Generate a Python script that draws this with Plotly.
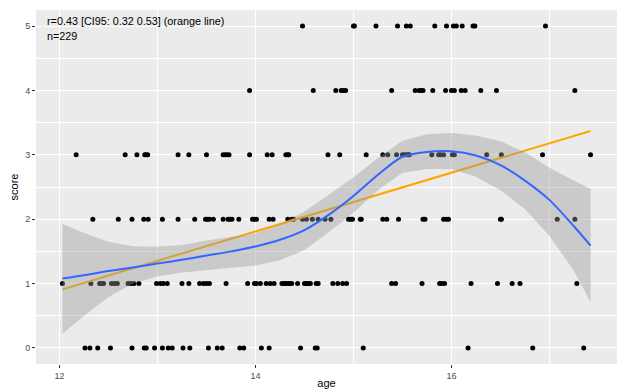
import plotly.graph_objects as go

# ---- data ----
age_s0 = [12.26, 12.31, 12.39, 12.52, 12.74, 12.865, 12.885, 12.97, 13.05, 13.11, 13.15, 13.26,
          13.33, 13.52, 13.61, 13.66, 13.84, 13.88, 14.06, 14.14, 14.46, 14.61, 14.63, 15.10,
          16.17, 16.83, 17.35]
age_s1 = [12.03, 12.32, 12.41, 12.43, 12.45, 12.53, 12.56, 12.59, 12.70, 12.73, 12.76, 12.81,
          12.99, 13.03, 13.06, 13.10, 13.25, 13.32, 13.43, 13.47, 13.50, 13.53, 13.70, 13.92,
          13.99, 14.01, 14.05, 14.11, 14.15, 14.19, 14.27, 14.29, 14.31, 14.33, 14.35, 14.37,
          14.43, 14.50, 14.52, 14.54, 14.56, 14.62, 14.64, 14.79, 14.84, 14.89, 14.93, 15.39,
          15.43, 15.70, 15.88, 15.90, 15.93, 16.20, 16.47, 16.62, 16.70, 17.28]
age_s2 = [12.34, 12.60, 12.74, 12.86, 12.905, 13.05, 13.21, 13.38, 13.49, 13.51, 13.53, 13.57,
          13.67, 13.72, 13.74, 13.76, 13.83, 13.97, 13.99, 14.01, 14.14, 14.18, 14.33, 14.37,
          14.39, 14.48, 14.52, 14.58, 14.64, 14.71, 14.77, 14.95, 14.97, 14.99, 15.07, 15.08,
          15.30, 15.34, 15.46, 15.71, 15.73, 15.92, 15.95, 15.97, 16.50, 16.51, 17.08, 17.26]
age_s3 = [12.17, 12.67, 12.79, 12.87, 12.885, 12.90, 13.21, 13.32, 13.50, 13.67, 13.69, 13.71,
          13.73, 13.94, 14.12, 14.17, 14.31, 14.33, 14.34, 14.74, 14.86, 15.13, 15.30, 15.35,
          15.44, 15.50, 15.52, 15.54, 15.56, 15.57, 15.80, 15.87, 15.89, 15.92, 16.01, 16.03,
          16.36, 16.51, 16.93, 17.42]
age_s4 = [13.94, 14.59, 14.82, 14.875, 14.90, 14.92, 15.39, 15.63, 15.67, 15.69, 15.71, 15.81,
          15.94, 16.00, 16.03, 16.10, 16.14, 16.30, 16.46, 17.26]
age_s5 = [14.48, 15.00, 15.01, 15.23, 15.45, 15.54, 15.58, 15.83, 15.95, 16.02, 16.05, 16.11,
          16.22, 16.24, 16.96]

# linear fit (orange line) end points
lm_x = [12.03, 17.42]
lm_y = [0.91, 3.37]

# loess smooth and its 95% band
smooth_x = [12.03, 12.25, 12.5, 12.75, 13.0, 13.25, 13.5, 13.75, 14.0, 14.25, 14.5, 14.75,
            15.0, 15.25, 15.5, 15.75, 16.0, 16.25, 16.5, 16.75, 17.0, 17.25, 17.42]
smooth_y = [1.08, 1.13, 1.195, 1.25, 1.31, 1.37, 1.435, 1.50, 1.575, 1.68, 1.83, 2.07,
            2.36, 2.69, 2.97, 3.045, 3.055, 2.99, 2.84, 2.60, 2.30, 1.89, 1.59]
band_hi = [1.925, 1.785, 1.65, 1.58, 1.57, 1.60, 1.67, 1.72, 1.78, 1.92, 2.12, 2.38,
           2.65, 2.95, 3.22, 3.32, 3.34, 3.30, 3.21, 3.04, 2.80, 2.60, 2.47]
band_lo = [0.22, 0.50, 0.79, 1.00, 1.11, 1.17, 1.21, 1.245, 1.28, 1.36, 1.52, 1.80,
           2.10, 2.45, 2.72, 2.78, 2.78, 2.66, 2.45, 2.16, 1.74, 1.20, 0.71]

x_ticks = [12, 14, 16]
y_ticks = [0, 1, 2, 3, 4, 5]
label_r = "r=0.43 [CI95: 0.32 0.53] (orange line)"
label_n = "n=229"

# ---- build ----
ages = age_s0 + age_s1 + age_s2 + age_s3 + age_s4 + age_s5
scores = ([0] * len(age_s0) + [1] * len(age_s1) + [2] * len(age_s2) +
          [3] * len(age_s3) + [4] * len(age_s4) + [5] * len(age_s5))

FONT = "Liberation Sans, Arial, sans-serif"

fig = go.Figure()
fig.add_trace(go.Scatter(x=ages, y=scores, mode="markers",
                         marker=dict(color="black", size=5), hoverinfo="skip"))
fig.add_trace(go.Scatter(x=lm_x, y=lm_y, mode="lines",
                         line=dict(color="#FFA500", width=2)))
fig.add_trace(go.Scatter(x=smooth_x + smooth_x[::-1], y=band_hi + band_lo[::-1],
                         mode="lines", fill="toself", line=dict(width=0),
                         fillcolor="rgba(153,153,153,0.4)"))
fig.add_trace(go.Scatter(x=smooth_x, y=smooth_y, mode="lines",
                         line=dict(color="#3366FF", width=2, shape="spline", smoothing=0.8)))

axis_common = dict(
    showgrid=True, gridcolor="white", gridwidth=1.1, zeroline=False,
    ticks="outside", ticklen=3, tickwidth=1, tickcolor="#333333",
    tickfont=dict(family=FONT, size=9, color="#4D4D4D"),
    showline=False, automargin=False,
)
fig.update_layout(
    width=617, height=389,
    margin=dict(l=36, r=0, t=10, b=25),
    paper_bgcolor="white", plot_bgcolor="#EBEBEB",
    showlegend=False,
    font=dict(family=FONT, color="black"),
    xaxis=dict(range=[11.76, 17.69], tickmode="array", tickvals=x_ticks,
               minor=dict(dtick=1, tick0=0, showgrid=True, gridcolor="white",
                          gridwidth=0.55, ticks=""),
               title=dict(text="age", font=dict(family=FONT, size=11, color="black"),
                          standoff=2),
               **axis_common),
    yaxis=dict(range=[-0.25, 5.25], tickmode="array", tickvals=y_ticks,
               minor=dict(dtick=0.5, tick0=0, showgrid=True, gridcolor="white",
                          gridwidth=0.55, ticks=""),
               title=dict(text="score", font=dict(family=FONT, size=11, color="black"),
                          standoff=4),
               **axis_common),
)
fig.add_annotation(text=label_r, xref="paper", yref="paper", x=(45 - 36) / 581,
                   y=(364 - 20.7) / 354, xanchor="left", yanchor="middle", showarrow=False,
                   font=dict(family=FONT, size=10.8, color="black"))
fig.add_annotation(text=label_n, xref="paper", yref="paper", x=(45 - 36) / 581,
                   y=(364 - 36.3) / 354, xanchor="left", yanchor="middle", showarrow=False,
                   font=dict(family=FONT, size=10.8, color="black"))

fig.write_html(
    "out.html",
    config={"displayModeBar": False},
    post_script="document.body.style.margin='0';document.body.style.overflow='hidden';",
)
